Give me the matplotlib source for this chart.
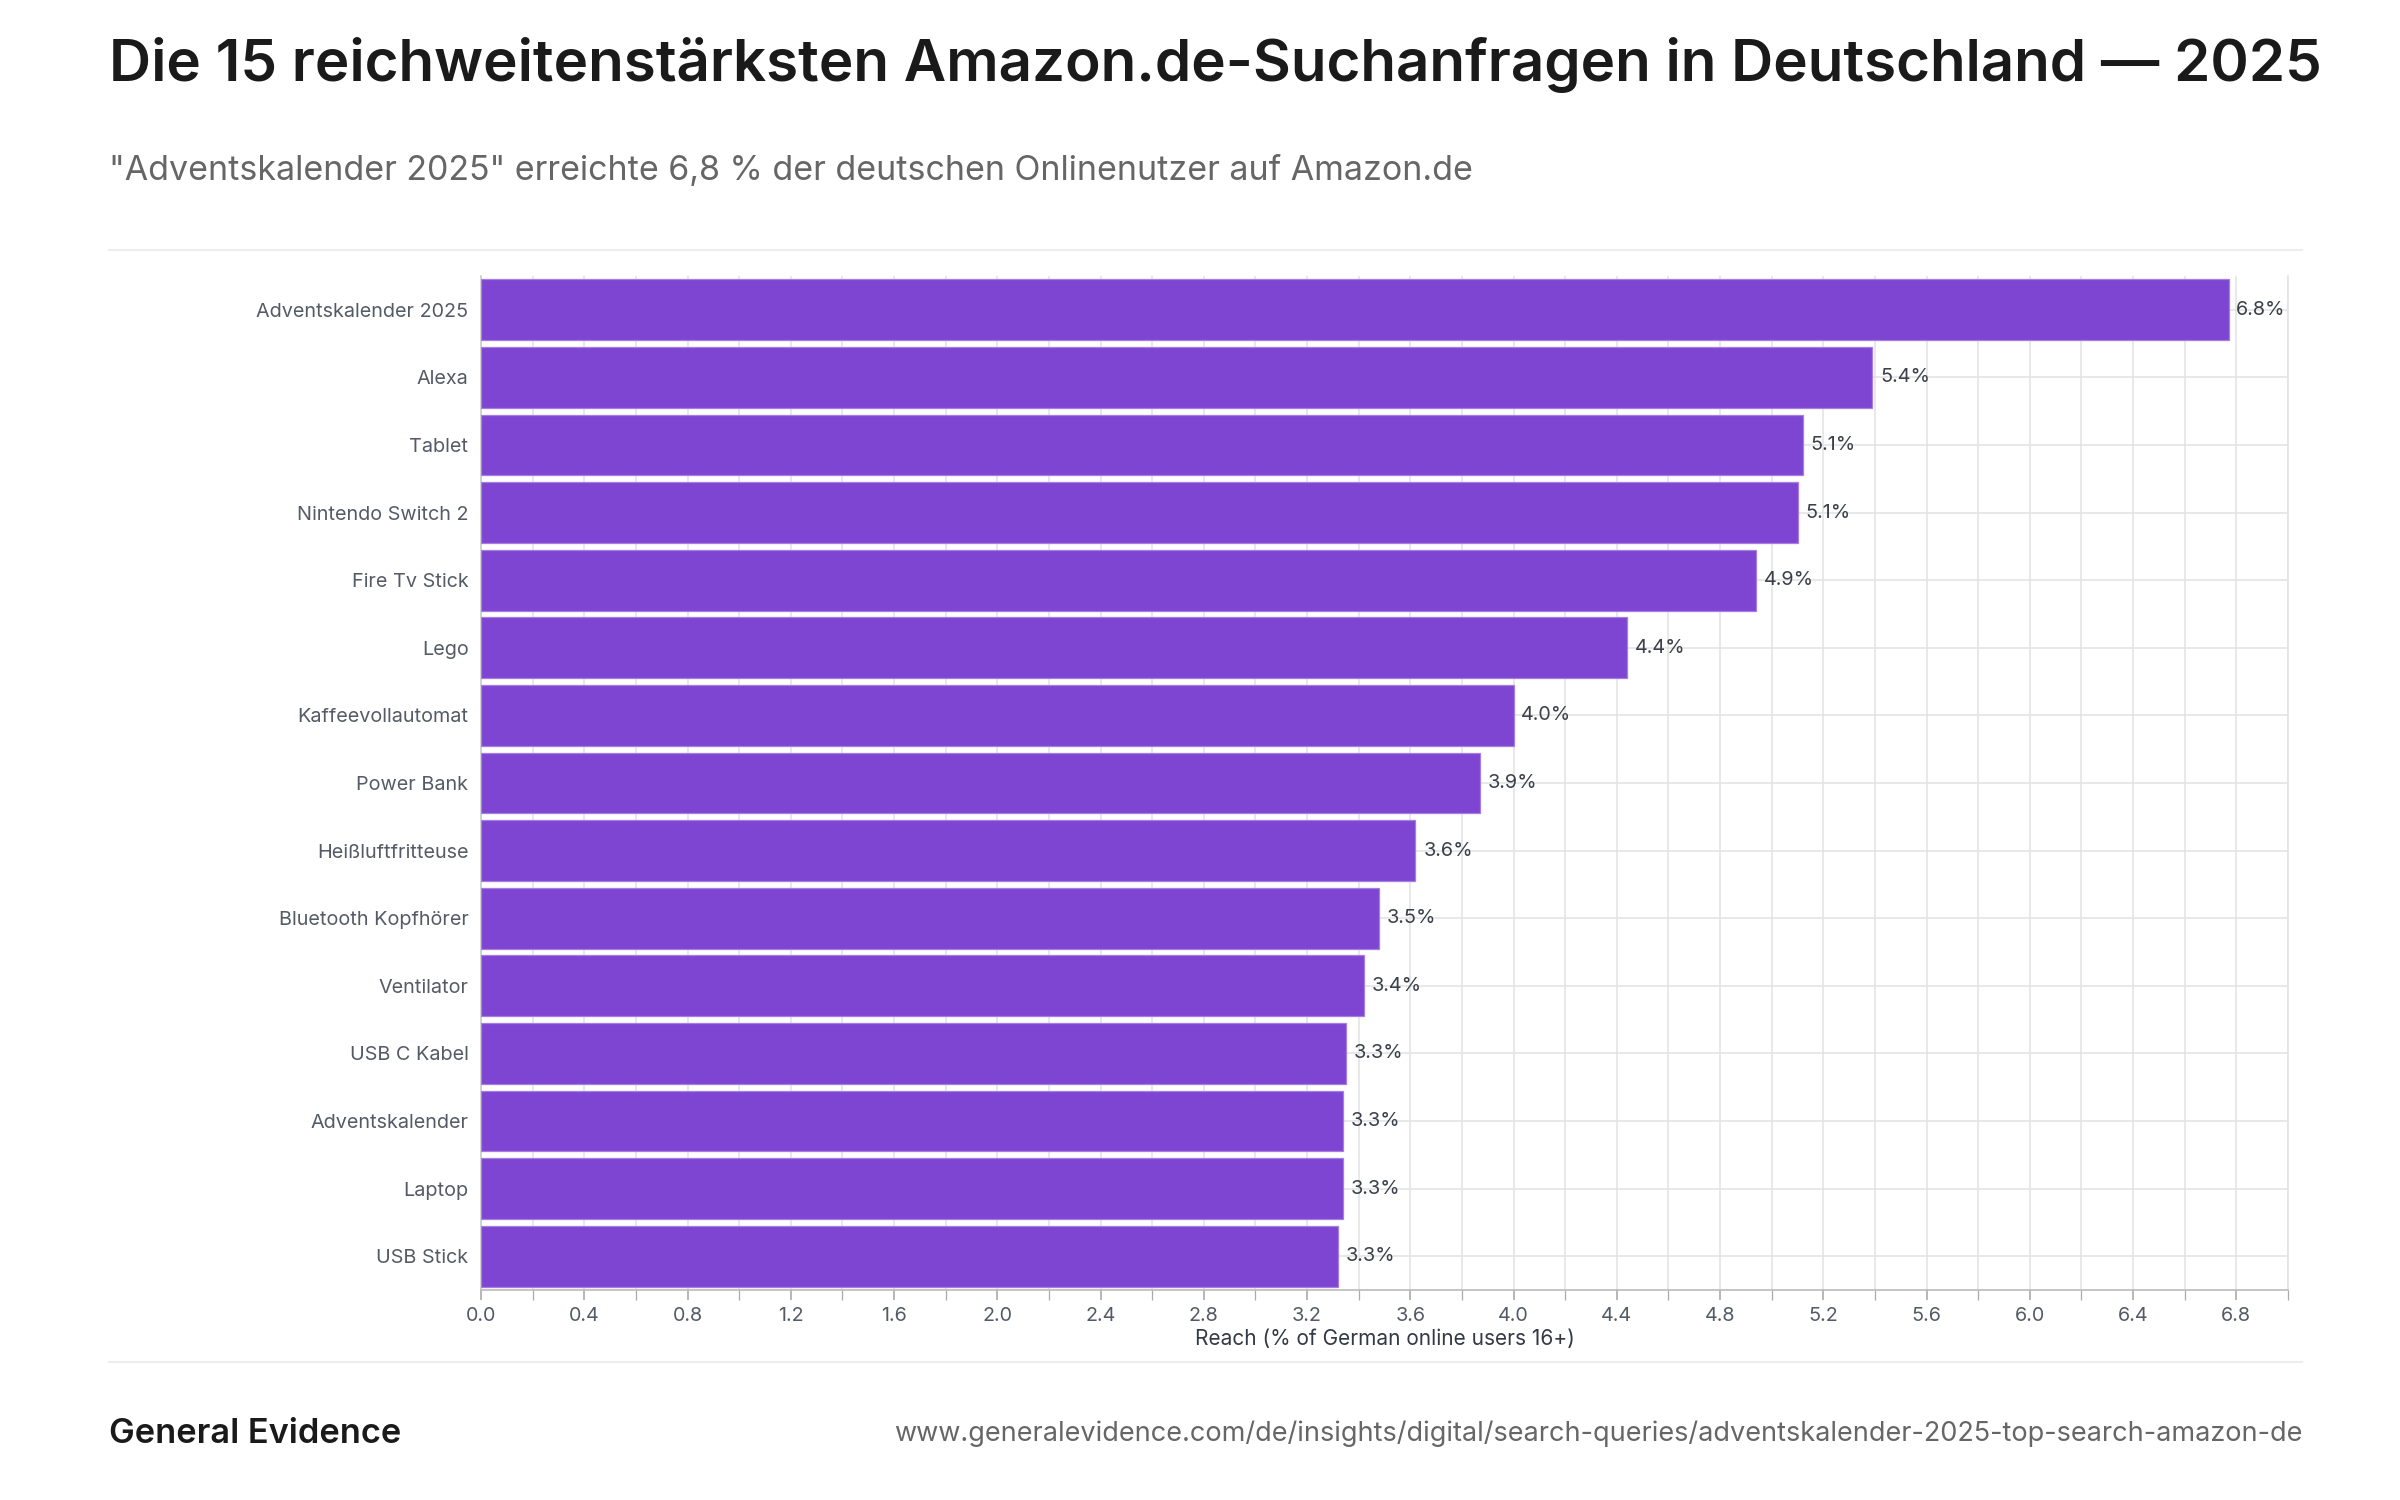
import matplotlib
matplotlib.use("Agg")
import matplotlib.pyplot as plt
import numpy as np

plt.rcParams['font.family'] = ['Inter', 'DejaVu Sans']

categories = ["Adventskalender 2025", "Alexa", "Tablet", "Nintendo Switch 2", "Fire Tv Stick",
              "Lego", "Kaffeevollautomat", "Power Bank", "Heißluftfritteuse", "Bluetooth Kopfhörer",
              "Ventilator", "USB C Kabel", "Adventskalender", "Laptop", "USB Stick"]
values = [6.77, 5.39, 5.12, 5.10, 4.94, 4.44, 4.00, 3.87, 3.62, 3.48, 3.42, 3.35, 3.34, 3.34, 3.32]
labels = ["6.8%", "5.4%", "5.1%", "5.1%", "4.9%", "4.4%", "4.0%", "3.9%", "3.6%", "3.5%",
          "3.4%", "3.3%", "3.3%", "3.3%", "3.3%"]
xticks = np.round(np.arange(0, 6.81, 0.4), 1)

W, H = 2400, 1500
fig = plt.figure(figsize=(16, 10), dpi=150)
ax = fig.add_axes([481/W, 1 - 1290/H, (2288-481)/W, (1290-276)/H])

y = np.arange(len(categories))
ax.barh(y, values, height=0.9, color="#7e44d2", edgecolor="#a57de3", linewidth=0.6, zorder=3)
for yi, v, l in zip(y, values, labels):
    ax.text(v + 0.03, yi, l, va="center", ha="left", fontsize=9.5, color="#3a3f4a", zorder=4)
ax.set_yticks(y)
ax.set_yticklabels(categories, fontsize=9.5, color="#555b66")
ax.set_ylim(len(categories) - 0.5, -0.5)
ax.set_xlim(0, 7.0)
ax.set_xticks(np.arange(0, 7.01, 0.2), minor=True)
ax.set_xticks(xticks)
ax.set_xticklabels([f"{t:.1f}" for t in xticks], fontsize=9.5, color="#555b66")
ax.tick_params(axis="x", which="both", length=5, color="#aaaaaa", pad=3)
ax.tick_params(axis="y", length=0, pad=6)
ax.grid(True, which="both", axis="x", color="#e4e4e4", linewidth=0.8, zorder=0)
ax.grid(True, axis="y", color="#e4e4e4", linewidth=0.8, zorder=0)
ax.spines["top"].set_visible(False)
ax.spines["left"].set_color("#cccccc")
ax.spines["right"].set_color("#e4e4e4")
ax.spines["bottom"].set_color("#bbbbbb")
ax.set_xlabel("Reach (% of German online users 16+)", fontsize=10, color="#333a45", labelpad=2)

fig.text(109/W, 1 - 65/H, "Die 15 reichweitenstärksten Amazon.de-Suchanfragen in Deutschland — 2025",
         fontsize=28, fontweight="semibold", color="#1a1a1a", va="center", ha="left")
fig.text(109/W, 1 - 171/H, "\"Adventskalender 2025\" erreichte 6,8 % der deutschen Onlinenutzer auf Amazon.de",
         fontsize=16.3, color="#666666", va="center", ha="left")
fig.add_artist(plt.Line2D([109/W, 2302/W], [1 - 250/H] * 2, color="#eeeeee", lw=1))
fig.add_artist(plt.Line2D([109/W, 2302/W], [1 - 1362/H] * 2, color="#eeeeee", lw=1))
fig.text(109/W, 1 - 1434/H, "General Evidence", fontsize=16.5, fontweight="semibold", color="#1a1a1a",
         va="center", ha="left")
fig.text(2302/W, 1 - 1434/H,
         "www.generalevidence.com/de/insights/digital/search-queries/adventskalender-2025-top-search-amazon-de",
         fontsize=13, color="#666666", va="center", ha="right")

fig.savefig("out.png", dpi=150, facecolor="white")
